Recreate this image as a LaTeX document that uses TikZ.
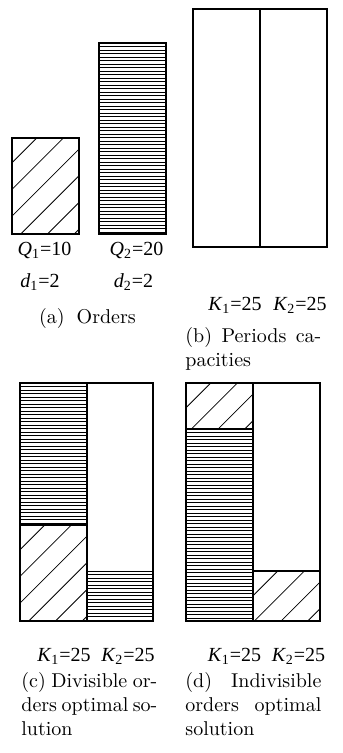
\documentclass[tikz,border=0pt]{standalone}
\usepackage{fontspec}
\newfontfamily\ordfont{Liberation Serif}
\usepackage{tikz}
\tikzset{
  ordbox/.style={draw,line width=0.6pt},
  ordthin/.style={draw,line width=0.4pt},
  ordslant/.style={path picture={
    \foreach \c in {0,...,8}
      \draw[ordthin] ([xshift=12.35pt+13.35pt*\c]path picture bounding box.north west) -- ++(-200,200);}},
  ordlines/.style={path picture={
    \foreach \k in {0,...,120}
      \draw[ordthin] ([yshift=-1.75pt*\k]path picture bounding box.north west) -- ++(400,0);}},
  ordlabel/.style={font=\ordfont,inner sep=0pt},
  ordcap/.style={align=left,inner sep=0pt,anchor=north west},
}
\newcommand{\capline}[1]{\makebox[68pt][s]{#1}}

\begin{document}
\begin{tikzpicture}[x=0.5pt,y=-0.5pt]
\useasboundingbox (0,0) rectangle (342,753);
% (a) orders
\draw[ordbox,ordslant] (12,138) rectangle (79,234);
\draw[ordbox,ordlines] (99,43) rectangle (166,234);
\node[ordlabel] (q1) at (44.5,250) {\textit{Q}\textsubscript{1}=10};
\node[ordlabel] (d1) at (40,282) {\textit{d}\textsubscript{1}=2};
\node[ordlabel] (q2) at (136.5,250) {\textit{Q}\textsubscript{2}=20};
\node[ordlabel] (d2) at (133.5,282) {\textit{d}\textsubscript{2}=2};
\node[inner sep=0pt] (capa) at (87.5,318) {(a)\hspace{6pt}Orders};
% (b) capacities
\draw[ordbox] (193,9) rectangle (327,247);
\draw[ordbox] (260,9) -- (260,247);
\node[ordlabel] (kb1) at (235,305) {\textit{K}\textsubscript{1}=25};
\node[ordlabel] (kb2) at (300,305) {\textit{K}\textsubscript{2}=25};
\node[ordcap] (capb) at (185,327) {\capline{(b) Periods ca-}\\pacities};
% (c) divisible
\draw[ordbox,ordlines] (20,383) rectangle (87,525);
\draw[ordbox,ordslant] (20,525) rectangle (87,621);
\draw[ordlines] (87,571) rectangle (153,621);
\draw[ordbox] (20,383) rectangle (153,621);
\draw[ordbox] (87,383) -- (87,621);
\node[ordlabel] (kc1) at (64,656) {\textit{K}\textsubscript{1}=25};
\node[ordlabel] (kc2) at (128,656) {\textit{K}\textsubscript{2}=25};
\node[ordcap] (capc) at (21,672) {\capline{(c) Divisible or-}\\\capline{ders optimal so-}\\lution};
% (d) indivisible
\draw[ordbox,ordslant] (186,383) rectangle (253,429);
\draw[ordbox,ordlines] (186,429) rectangle (253,621);
\draw[ordbox,ordslant] (253,571) rectangle (320,621);
\draw[ordbox] (186,383) rectangle (320,621);
\node[ordlabel] (kd1) at (234.5,656) {\textit{K}\textsubscript{1}=25};
\node[ordlabel] (kd2) at (298.5,656) {\textit{K}\textsubscript{2}=25};
\node[ordcap] (capd) at (185,672) {\capline{(d) Indivisible}\\\capline{orders optimal}\\solution};
\end{tikzpicture}
\end{document}
